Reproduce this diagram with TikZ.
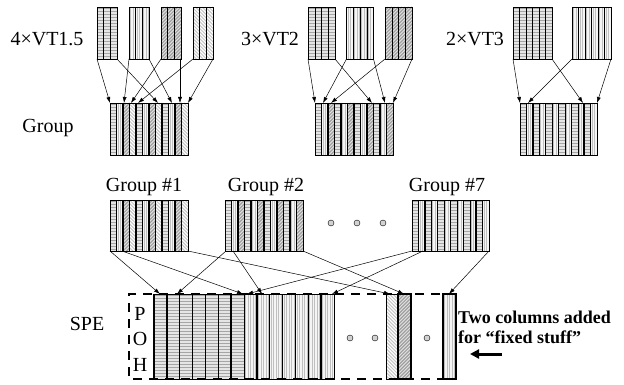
\documentclass[tikz,border=0pt]{standalone}
\usepackage{fontspec}
\setmainfont{Liberation Serif}
\usetikzlibrary{arrows.meta,calc}
% stripe fillers: #1 x, #2 y (top), #3 width, #4 height
\newcommand\cellph[4]{%
  \fill[gray!20] (#1,#2) rectangle ++(#3,#4);
  \begin{scope}\clip (#1,#2) rectangle ++(#3,#4);
  \foreach \t in {1.5,4.5,...,#4}{\draw[gray!70,line width=1.4pt] (#1,#2+\t) -- ++(#3,0);}
  \end{scope}}
\newcommand\cellpv[4]{%
  \fill[gray!8] (#1,#2) rectangle ++(#3,#4);
  \begin{scope}\clip (#1,#2) rectangle ++(#3,#4);
  \foreach \t in {1.5,4,...,#3}{\draw[gray!50,line width=0.7pt] (#1+\t,#2) -- ++(0,#4);}
  \end{scope}}
\newcommand\cellpd[4]{%
  \fill[gray!22] (#1,#2) rectangle ++(#3,#4);
  \begin{scope}\clip (#1,#2) rectangle ++(#3,#4);
  \pgfmathsetmacro\ta{-(#4)}\pgfmathsetmacro\tb{-(#4)+3.4}%
  \foreach \t in {\ta,\tb,...,#3}{\draw[gray!75,line width=1.2pt] (#1+\t,#2+#4) -- ++(#4,-#4);}
  \end{scope}}
\newcommand\cellpl[4]{%
  \fill[white] (#1,#2) rectangle ++(#3,#4);
  \begin{scope}\clip (#1,#2) rectangle ++(#3,#4);
  \pgfmathsetmacro\ta{-(#4)}\pgfmathsetmacro\tb{-(#4)+3.4}%
  \foreach \t in {\ta,\tb,...,#3}{\draw[gray!45,line width=1pt] (#1+\t,#2) -- ++(#4,#4);}
  \end{scope}}
\newcommand\colrow[5]{%
  \foreach \s [count=\i from 0] in {#5}{%
    \pgfmathsetmacro\xx{#1+\i*#3}%
    \csname cell\s\endcsname{\xx}{#2}{#3}{#4}%
    \draw[line width=0.5pt] (\xx,#2) rectangle ++(#3,#4);
  }}
\newcommand\thickat[5]{%
  \foreach \k in {#5}{\draw[line width=1.5pt] ({#1+\k*#3},#2) -- ++(0,#4);}}
\begin{document}
\begin{tikzpicture}[x=1pt,y=-1pt,
  box/.style={inner sep=0pt,outer sep=0pt,anchor=north west,draw=none},
  lab/.style={font=\fontsize{20}{24}\selectfont,inner sep=0pt},
  arr/.style={line width=0.5pt,-{Latex[length=6pt,width=4pt]}},
  dot/.style={circle,draw=black,line width=0.4pt,fill=gray!35,minimum size=6pt,inner sep=0pt},
  spe/.style={line width=2pt,dash pattern=on 9pt off 7pt}]
\useasboundingbox (0,0) rectangle (624,385);

% ---------- top row: VT1.5 ----------
\node[lab] (l1) at (47,39) {4×VT1.5};
\colrow{97}{7}{6.667}{52}{ph,ph,ph}
\colrow{129}{7}{6.667}{52}{pv,pv,pv}
\colrow{161}{7}{6.667}{52}{pd,pd,pd}
\colrow{193}{7}{6.667}{52}{pl,pl,pl}
\node[box,minimum width=20pt,minimum height=52pt] (a1) at (97,7) {};
\node[box,minimum width=20pt,minimum height=52pt] (a2) at (129,7) {};
\node[box,minimum width=20pt,minimum height=52pt] (a3) at (161,7) {};
\node[box,minimum width=20pt,minimum height=52pt] (a4) at (193,7) {};
\node[lab] (lg) at (48,128) {Group};
\colrow{110}{103}{6.5}{52}{ph,pv,pd,pl,ph,pv,pd,pl,ph,pv,pd,pl}
\thickat{110}{103}{6.5}{52}{2,4,6,8,10}
\node[box,minimum width=78pt,minimum height=52pt] (ga) at (110,103) {};
\coordinate (ta1) at (110,103);
\coordinate (ta2) at (124,103);
\coordinate (ta3) at (131,103);
\coordinate (ta4) at (138,103);
\coordinate (ta5) at (158,103);
\coordinate (ta6) at (172,103);
\coordinate (ta7) at (180,103);
\coordinate (ta8) at (188,103);
\draw[arr] (a1.south west) -- (ta1);
\draw[arr] (a1.south east) -- (ta5);
\draw[arr] (a2.south west) -- (ta2);
\draw[arr] (a2.south east) -- (ta6);
\draw[arr] (a3.south west) -- (ta3);
\draw[arr] ($(a3.south east)+(-1,0)$) -- (ta7);
\draw[arr] (a4.south west) -- (ta4);
\draw[arr] (a4.south east) -- (ta8);

% ---------- top row: VT2 ----------
\node[lab] (l2) at (270,39) {3×VT2};
\colrow{308}{7}{6.75}{52}{ph,ph,ph,ph}
\colrow{346.5}{7}{6.75}{52}{pv,pv,pv,pv}
\colrow{385}{7}{6.75}{52}{pd,pd,pd,pd}
\node[box,minimum width=27pt,minimum height=52pt] (b1) at (308,7) {};
\node[box,minimum width=27pt,minimum height=52pt] (b2) at (346.5,7) {};
\node[box,minimum width=27pt,minimum height=52pt] (b3) at (385,7) {};
\colrow{315}{103}{6.5}{52}{ph,pv,pd,ph,pv,pd,ph,pv,pd,ph,pv,pd}
\thickat{315}{103}{6.5}{52}{2,4,6,8,10}
\node[box,minimum width=78pt,minimum height=52pt] (gb) at (315,103) {};
\coordinate (tb1) at (315,103);
\coordinate (tb2) at (323,103);
\coordinate (tb3) at (331,103);
\coordinate (tb4) at (372,103);
\coordinate (tb5) at (385,103);
\coordinate (tb6) at (393,103);
\draw[arr] (b1.south west) -- (tb1);
\draw[arr] (b1.south east) -- (tb4);
\draw[arr] (b2.south west) -- (tb2);
\draw[arr] (b2.south east) -- (tb5);
\draw[arr] (b3.south west) -- (tb3);
\draw[arr] (b3.south east) -- (tb6);

% ---------- top row: VT3 ----------
\node[lab] (l3) at (475,39) {2×VT3};
\colrow{513}{7}{6.5}{52}{ph,ph,ph,ph,ph,ph}
\colrow{572}{7}{6.5}{52}{pv,pv,pv,pv,pv,pv}
\node[box,minimum width=39pt,minimum height=52pt] (c1) at (513,7) {};
\node[box,minimum width=39pt,minimum height=52pt] (c2) at (572,7) {};
\colrow{520}{103}{6.417}{52}{ph,pv,ph,pv,ph,pv,ph,pv,ph,pv,ph,pv}
\thickat{520}{103}{6.417}{52}{2,4,6,8,10}
\node[box,minimum width=77pt,minimum height=52pt] (gc) at (520,103) {};
\coordinate (tc1) at (520,103);
\coordinate (tc2) at (528,103);
\coordinate (tc3) at (583,103);
\coordinate (tc4) at (597,103);
\draw[arr] (c1.south west) -- (tc1);
\draw[arr] (c1.south east) -- (tc3);
\draw[arr] (c2.south west) -- (tc2);
\draw[arr] (c2.south east) -- (tc4);

% ---------- middle row: groups ----------
\node[lab] (lg1) at (144,187) {Group \#1};
\node[lab] (lg2) at (266,187) {Group \#2};
\node[lab] (lg7) at (447,187) {Group \#7};
\colrow{110}{200}{6.5}{51}{ph,pv,pd,pl,ph,pv,pd,pl,ph,pv,pd,pl}
\thickat{110}{200}{6.5}{51}{2,4,6,8,10}
\colrow{225}{200}{6.5}{51}{ph,pv,pd,ph,pv,pd,ph,pv,pd,ph,pv,pd}
\thickat{225}{200}{6.5}{51}{2,4,6,8,10}
\colrow{412}{200}{6.417}{51}{ph,pv,ph,pv,ph,pv,ph,pv,ph,pv,ph,pv}
\thickat{412}{200}{6.417}{51}{2,4,6,8,10}
\node[box,minimum width=78pt,minimum height=51pt] (G1) at (110,200) {};
\node[box,minimum width=78pt,minimum height=51pt] (G2) at (225,200) {};
\node[box,minimum width=77pt,minimum height=51pt] (G7) at (412,200) {};
\node[dot] (d1) at (331,223) {};
\node[dot] (d2) at (357,223) {};
\node[dot] (d3) at (383,223) {};

% ---------- SPE ----------
\node[lab] (lspe) at (87,324) {SPE};
\colrow{154}{294}{12.857}{85}{ph,ph,ph,ph,ph,ph,ph,pv,pv,pv,pv,pv,pv,pv}
\thickat{154}{294}{12.857}{85}{0,1,3,4,5,6,8,9,11,12,13}
\cellpl{386}{294}{12}{85}
\draw[line width=0.6pt] (386,294) rectangle (398,379);
\cellpd{398}{294}{13}{85}
\draw[line width=1.5pt] (398,294) rectangle (411,379);
\cellpv{443}{294}{13}{85}
\draw[line width=1.5pt] (443,294) rectangle (456,379);
\draw[spe] (456,294) -- (129,294) -- (129,379) -- (456,379);
\node[lab] (P) at (140,314) {P};
\node[lab] (O) at (140,339) {O};
\node[lab] (H) at (140,365) {H};
\node[dot] (d4) at (350,338) {};
\node[dot] (d5) at (375,338) {};
\node[dot] (d6) at (427,338) {};
\node[box,minimum width=327pt,minimum height=85pt] (S) at (129,294) {};

\coordinate (s1) at (160,294);
\coordinate (s2) at (177,294);
\coordinate (s3) at (243,294);
\coordinate (s4) at (247,294);
\coordinate (s5) at (262,294);
\coordinate (s6) at (332,294);
\coordinate (s7) at (390,294);
\coordinate (s8) at (404,294);
\coordinate (s9) at (449,294);
\draw[arr] (G1.south west) -- (s1);
\draw[arr] ($(G1.south west)+(12,0)$) -- (s3);
\draw[arr] (G1.south east) -- (s7);
\draw[arr] ($(G2.south west)+(1,0)$) -- (s2);
\draw[arr] ($(G2.south west)+(8,0)$) -- (s5);
\draw[arr] (G2.south east) -- (s8);
\draw[arr] (G7.south west) -- (s4);
\draw[arr] ($(G7.south west)+(11,0)$) -- (s6);
\draw[arr] (G7.south east) -- (s9);

\node[font=\fontsize{18}{20}\selectfont\bfseries,align=left,anchor=west,inner sep=0pt] (note) at (458,327) {Two columns added\\for “fixed stuff”};
\coordinate (ae) at (470,354);
\coordinate (as) at (502,354);
\draw[line width=3pt,-{Triangle[length=9pt,width=9pt]}] (as) -- (ae);
\end{tikzpicture}
\end{document}
